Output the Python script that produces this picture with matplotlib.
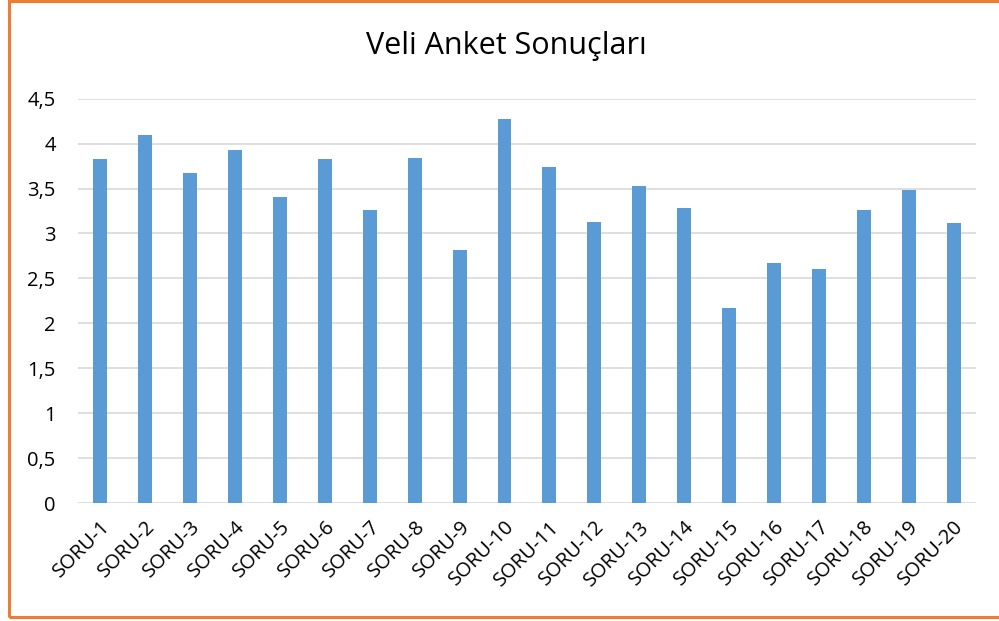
import matplotlib.pyplot as plt
from matplotlib.patches import Rectangle

plt.rcParams['font.family'] = ['Open Sans', 'DejaVu Sans']

# Survey results per question
questions = ['SORU-%d' % i for i in range(1, 21)]
scores = [3.83, 4.10, 3.67, 3.93, 3.41, 3.83, 3.26, 3.84, 2.82, 4.27,
          3.74, 3.13, 3.53, 3.28, 2.17, 2.67, 2.61, 3.26, 3.48, 3.12]
yticks = [0, 0.5, 1, 1.5, 2, 2.5, 3, 3.5, 4, 4.5]
ylabels = ['0', '0,5', '1', '1,5', '2', '2,5', '3', '3,5', '4', '4,5']

fig = plt.figure(figsize=(9.99, 6.21), dpi=100)
ax = fig.add_axes([0.078, 0.19, 0.899, 0.651])

ax.bar(range(len(questions)), scores, width=0.31, color='#5B9BD5', zorder=3)

ax.set_xlim(-0.5, len(questions) - 0.5)
ax.set_ylim(0, 4.5)
ax.set_yticks(yticks)
ax.set_yticklabels(ylabels, fontsize=14.5)
ax.set_xticks(range(len(questions)))
ax.set_xticklabels(questions, rotation=45, ha='right', rotation_mode='anchor', fontsize=14.5)
ax.tick_params(length=0)
ax.tick_params(axis='y', pad=16)
ax.tick_params(axis='x', pad=10)
ax.grid(axis='y', color='#D9D9D9', linewidth=1.2, zorder=0)
for s in ax.spines.values():
    s.set_visible(False)

fig.text(0.507, 0.926, 'Veli Anket Sonuçları', ha='center', va='center', fontsize=22)

# orange frame (cropped on the right side in the original)
fig.patches.append(Rectangle((0.009, 0.0065), 1.0, 0.9915, transform=fig.transFigure,
                             fill=False, edgecolor='#ED7D31', linewidth=2.2))

fig.savefig('out.png', dpi=100)
